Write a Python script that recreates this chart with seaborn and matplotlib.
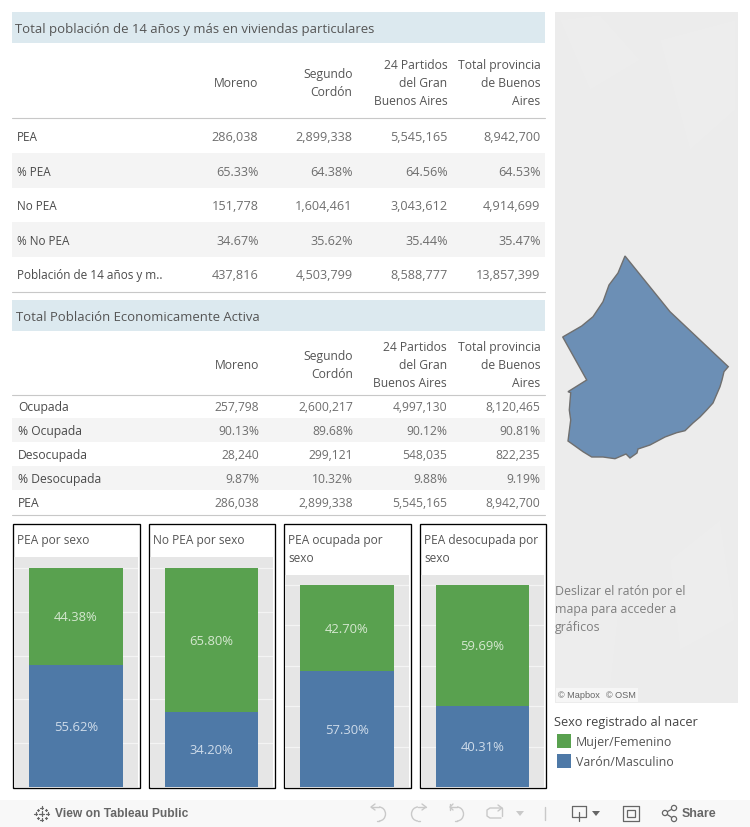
"""Tableau dashboard: población económicamente activa, Moreno."""
import matplotlib
matplotlib.use('Agg')
import matplotlib.pyplot as plt
from matplotlib.patches import Arc, Polygon, Rectangle, Circle
import pandas as pd
import seaborn as sns

# Data
columns = ['Moreno', 'Segundo\nCordón', '24 Partidos\ndel Gran\nBuenos Aires', 'Total provincia\nde Buenos\nAires']

title_1 = 'Total población de 14 años y más en viviendas particulares'
rows_1 = ['PEA', '% PEA', 'No PEA', '% No PEA', 'Población de 14 años y m..']
values_1 = [
    ['286,038', '2,899,338', '5,545,165', '8,942,700'],
    ['65.33%', '64.38%', '64.56%', '64.53%'],
    ['151,778', '1,604,461', '3,043,612', '4,914,699'],
    ['34.67%', '35.62%', '35.44%', '35.47%'],
    ['437,816', '4,503,799', '8,588,777', '13,857,399'],
]

title_2 = 'Total Población Economicamente Activa'
rows_2 = ['Ocupada', '% Ocupada', 'Desocupada', '% Desocupada', 'PEA']
values_2 = [
    ['257,798', '2,600,217', '4,997,130', '8,120,465'],
    ['90.13%', '89.68%', '90.12%', '90.81%'],
    ['28,240', '299,121', '548,035', '822,235'],
    ['9.87%', '10.32%', '9.88%', '9.19%'],
    ['286,038', '2,899,338', '5,545,165', '8,942,700'],
]

panel_titles = ['PEA por sexo', 'No PEA por sexo', 'PEA ocupada por\nsexo', 'PEA desocupada por\nsexo']
mujer_pct = [44.38, 65.80, 42.70, 59.69]
varon_pct = [55.62, 34.20, 57.30, 40.31]

legend_title = 'Sexo registrado al nacer'
legend_labels = ['Mujer/Femenino', 'Varón/Masculino']

map_x = [625, 670, 728.3, 724, 722, 720, 716, 713, 706.7, 700, 693, 685, 676.7, 665, 650, 638, 637, 630, 626, 615,
         603, 591.7, 583, 568, 570.7, 569.3, 570.7, 568, 586.7, 562.7, 581.7, 593, 603, 609, 618]
map_y = [256, 311.7, 366.7, 371.7, 380, 386.7, 396, 403, 410, 417, 423, 430.7, 432.7, 437, 445, 449, 453, 458, 454, 458.7,
         457, 457, 451.7, 441, 420, 410, 392.7, 391.7, 380, 337, 326, 316.7, 301.7, 285, 273]

GREEN = '#59a14f'
BLUE = '#4e79a7'
TEXT = '#555555'
NUM = '#6e6e6e'
FONT = ['Open Sans', 'DejaVu Sans']

sns.set_theme(style='white')
plt.rcParams['font.family'] = FONT

W, H = 750, 827
fig = plt.figure(figsize=(W / 100, H / 100), dpi=100, facecolor='white')

# background layer in screen pixels
bg = fig.add_axes([0, 0, 1, 1])
bg.set_xlim(0, W)
bg.set_ylim(H, 0)
bg.axis('off')


def txt(x, y, s, size=9.2, color=TEXT, ha='left', **kw):
    bg.text(x, y + 1.8, s, fontsize=size, color=color, ha=ha, va='center', **kw)


def rect(x0, y0, x1, y1, **kw):
    kw.setdefault('lw', 0)
    bg.add_patch(Rectangle((x0, y0), x1 - x0, y1 - y0, **kw))


def draw_table(title, rows, values, top, header_mid, header_line, row_y, row_h, text_x, right_edges, label_size, num_size):
    rect(12, top, 545, top + 31, fc='#dce9ef')
    txt(text_x - 2, top + 16, title, size=9.45)
    for right, col in zip(right_edges, columns):
        lines = col.split('\n')
        for k, line in enumerate(lines):
            txt(right, header_mid + (k - (len(lines) - 1) / 2) * 18, line, size=8.75, ha='right')
    bg.plot([12, 545], [header_line, header_line], color='#c8c8c8', lw=0.8)
    for i, name in enumerate(rows):
        y = row_y + i * row_h
        if i % 2 == 1:
            rect(12, y - row_h / 2, 545, y + row_h / 2, fc='#f4f4f4')
        txt(text_x, y, name, size=label_size, color='#4a4a4a')
        for right, val in zip(right_edges, values[i]):
            txt(right, y, val, size=num_size, color=NUM, ha='right')
    bottom = row_y + 4.5 * row_h + 0.5
    bg.plot([12, 545], [bottom, bottom], color='#c8c8c8', lw=0.8)


draw_table(title_1, rows_1, values_1, 12, 82, 118, 136, 34.5, 17, [258.5, 352.5, 447.5, 540.5], 8.5, 9.1)
draw_table(title_2, rows_2, values_2, 300, 364, 394.5, 406, 24, 18, [259, 353, 447, 540.5], 8.7, 8.7)

# map panel
rect(555, 12, 738, 703, fc='#ececec')
for px, py in [([560, 600, 640, 590], [20, 15, 60, 90]), ([660, 735, 735, 690], [40, 20, 110, 150]),
               ([556, 620, 610, 556], [640, 600, 690, 700]), ([670, 720, 735, 680], [560, 520, 620, 650])]:
    bg.add_patch(Polygon(list(zip(px, py)), fc='#ededed', lw=0))
bg.add_patch(Polygon(list(zip(map_x, map_y)), closed=True, fc='#6c8fb5', ec='#6f6f6f', lw=1))
for i, line in enumerate(['Deslizar el ratón por el', 'mapa para acceder a', 'gráficos']):
    txt(555, 590 + i * 18, line, size=8.9, color='#7f7f7f')
rect(556, 688, 638, 702, fc='#f6f6f6')
txt(558, 694, '© Mapbox', size=6.6, color='#666666', family=['Liberation Sans'])
txt(606, 694, '© OSM', size=6.6, color='#666666', family=['Liberation Sans'])

# bar panels: frame x0, x1, top; axes x0, x1, top
frames = [(12.5, 139.5), (148.5, 274.5), (283.5, 410.5), (419.5, 545.5)]
axes_x = [(14, 138), (150, 273), (285, 409), (421, 544)]
axes_top = [557, 557, 575, 575]
AX_BOTTOM = 787

for i, title in enumerate(panel_titles):
    fx0, fx1 = frames[i]
    rect(fx0, 523.5, fx1, 787.5, fc='white', ec='black', lw=0.95, zorder=1)
    for k, line in enumerate(title.split('\n')):
        txt(fx0 + 4.5, 539 + k * 18, line, size=8.55)

    ax0, ax1 = axes_x[i]
    ax = fig.add_axes([ax0 / W, 1 - AX_BOTTOM / H, (ax1 - ax0) / W, (AX_BOTTOM - axes_top[i]) / H])
    df = pd.DataFrame({'panel': [title], 'mujer': [mujer_pct[i]], 'varon': [varon_pct[i]]})
    df['total'] = df['mujer'] + df['varon']
    sns.barplot(data=df, x='panel', y='total', color=GREEN, saturation=1, width=0.76, linewidth=0, ax=ax, zorder=3)
    sns.barplot(data=df, x='panel', y='varon', color=BLUE, saturation=1, width=0.76, linewidth=0, ax=ax, zorder=3)
    ax.set_facecolor('#e6e6e6')
    ax.set_ylim(0, 105)
    ax.set_yticks([20, 40, 60, 80, 100])
    ax.grid(axis='y', color='#f4f4f4', lw=0.9, zorder=0)
    ax.set_axisbelow(True)
    ax.set(xlabel='', ylabel='', xticklabels=[])
    ax.tick_params(left=False, bottom=False, labelleft=False, labelbottom=False)
    sns.despine(ax=ax, left=True, bottom=True)
    v, m = varon_pct[i], mujer_pct[i]
    for val, pos, color in [(m, v + m / 2, '#d5e8d0'), (v, v / 2, '#cfdcea')]:
        ax.annotate(f'{val:.2f}%', (0, pos), xytext=(0, -1), textcoords='offset points',
                    color=color, ha='center', va='center', fontsize=9.4, zorder=5)

# legend
txt(554, 721, legend_title, size=9.15, color='#444444')
for y, color, label in zip([734, 754], [GREEN, BLUE], legend_labels):
    rect(557, y, 571, y + 14, fc=color)
    txt(576, y + 7, label, size=8.9)

# Tableau toolbar
rect(0, 800, W, H, fc='#f8f8f8')
txt(55, 812, 'View on Tableau Public', size=8.65, color='#666666', family=['Liberation Sans'], fontweight='bold')
for dx, dy, s in [(0, 0, 5.5), (-6, 0, 3), (6, 0, 3), (0, -6, 3), (0, 6, 3), (-4, -4, 2), (4, -4, 2), (-4, 4, 2), (4, 4, 2)]:
    cx, cy = 41.5 + dx, 813.5 + dy
    bg.plot([cx - s / 2, cx + s / 2], [cy, cy], color='#666666', lw=0.9)
    bg.plot([cx, cx], [cy - s / 2, cy + s / 2], color='#666666', lw=0.9)

ICON = '#c9c9c9'
DARK = '#666666'
# undo, redo, revert, refresh
for cx, x_end, start, end, tip in [(379, 371, -90, 90, 375), (418, 426, 90, 270, 422), (457, 450, -90, 90, 453)]:
    bg.add_patch(Arc((cx, 814), 13, 14, theta1=start, theta2=end, color=ICON, lw=1))
    bg.plot([x_end, cx], [807, 807], color=ICON, lw=1)
    bg.plot([cx, cx + (x_end - cx) * 0.3], [821, 821], color=ICON, lw=1)
    bg.plot([tip, x_end, tip], [804, 807, 810], color=ICON, lw=1)
bg.plot([450, 450], [804, 810], color=ICON, lw=1)
bg.plot([502, 490, 487, 487, 490, 501], [808, 808, 810, 816, 818, 818], color=ICON, lw=1)
bg.plot([498, 502, 498], [805, 808, 811], color=ICON, lw=1)
bg.plot([502, 502], [808, 816], color=ICON, lw=1)
bg.add_patch(Polygon([(516, 811), (524, 811), (520, 816)], fc=ICON, lw=0))
bg.plot([545, 545], [807, 820], color=ICON, lw=1)
bg.plot([586, 572, 572, 586, 586], [806, 806, 817, 817, 806], color=DARK, lw=0.9)
bg.plot([579, 579], [812, 821], color=DARK, lw=0.9)
bg.add_patch(Polygon([(592, 811), (600, 811), (596, 816)], fc=DARK, lw=0))
bg.plot([623, 639, 639, 623, 623], [806, 806, 821, 821, 806], color=DARK, lw=0.9)
rect(627, 810, 635, 817, fc='none', ec=DARK, lw=0.9)
for cx, cy in [(665, 813), (674, 808), (674, 819)]:
    bg.add_patch(Circle((cx, cy), 2.6, fc='#f8f8f8', ec=DARK, lw=0.9, zorder=3))
bg.plot([674, 665, 674], [808, 813, 819], color=DARK, lw=0.9)
txt(682, 812, 'Share', size=8.9, color='#666666', family=['Liberation Sans'], fontweight='bold')

fig.savefig('out.png', dpi=100)
plt.close(fig)
